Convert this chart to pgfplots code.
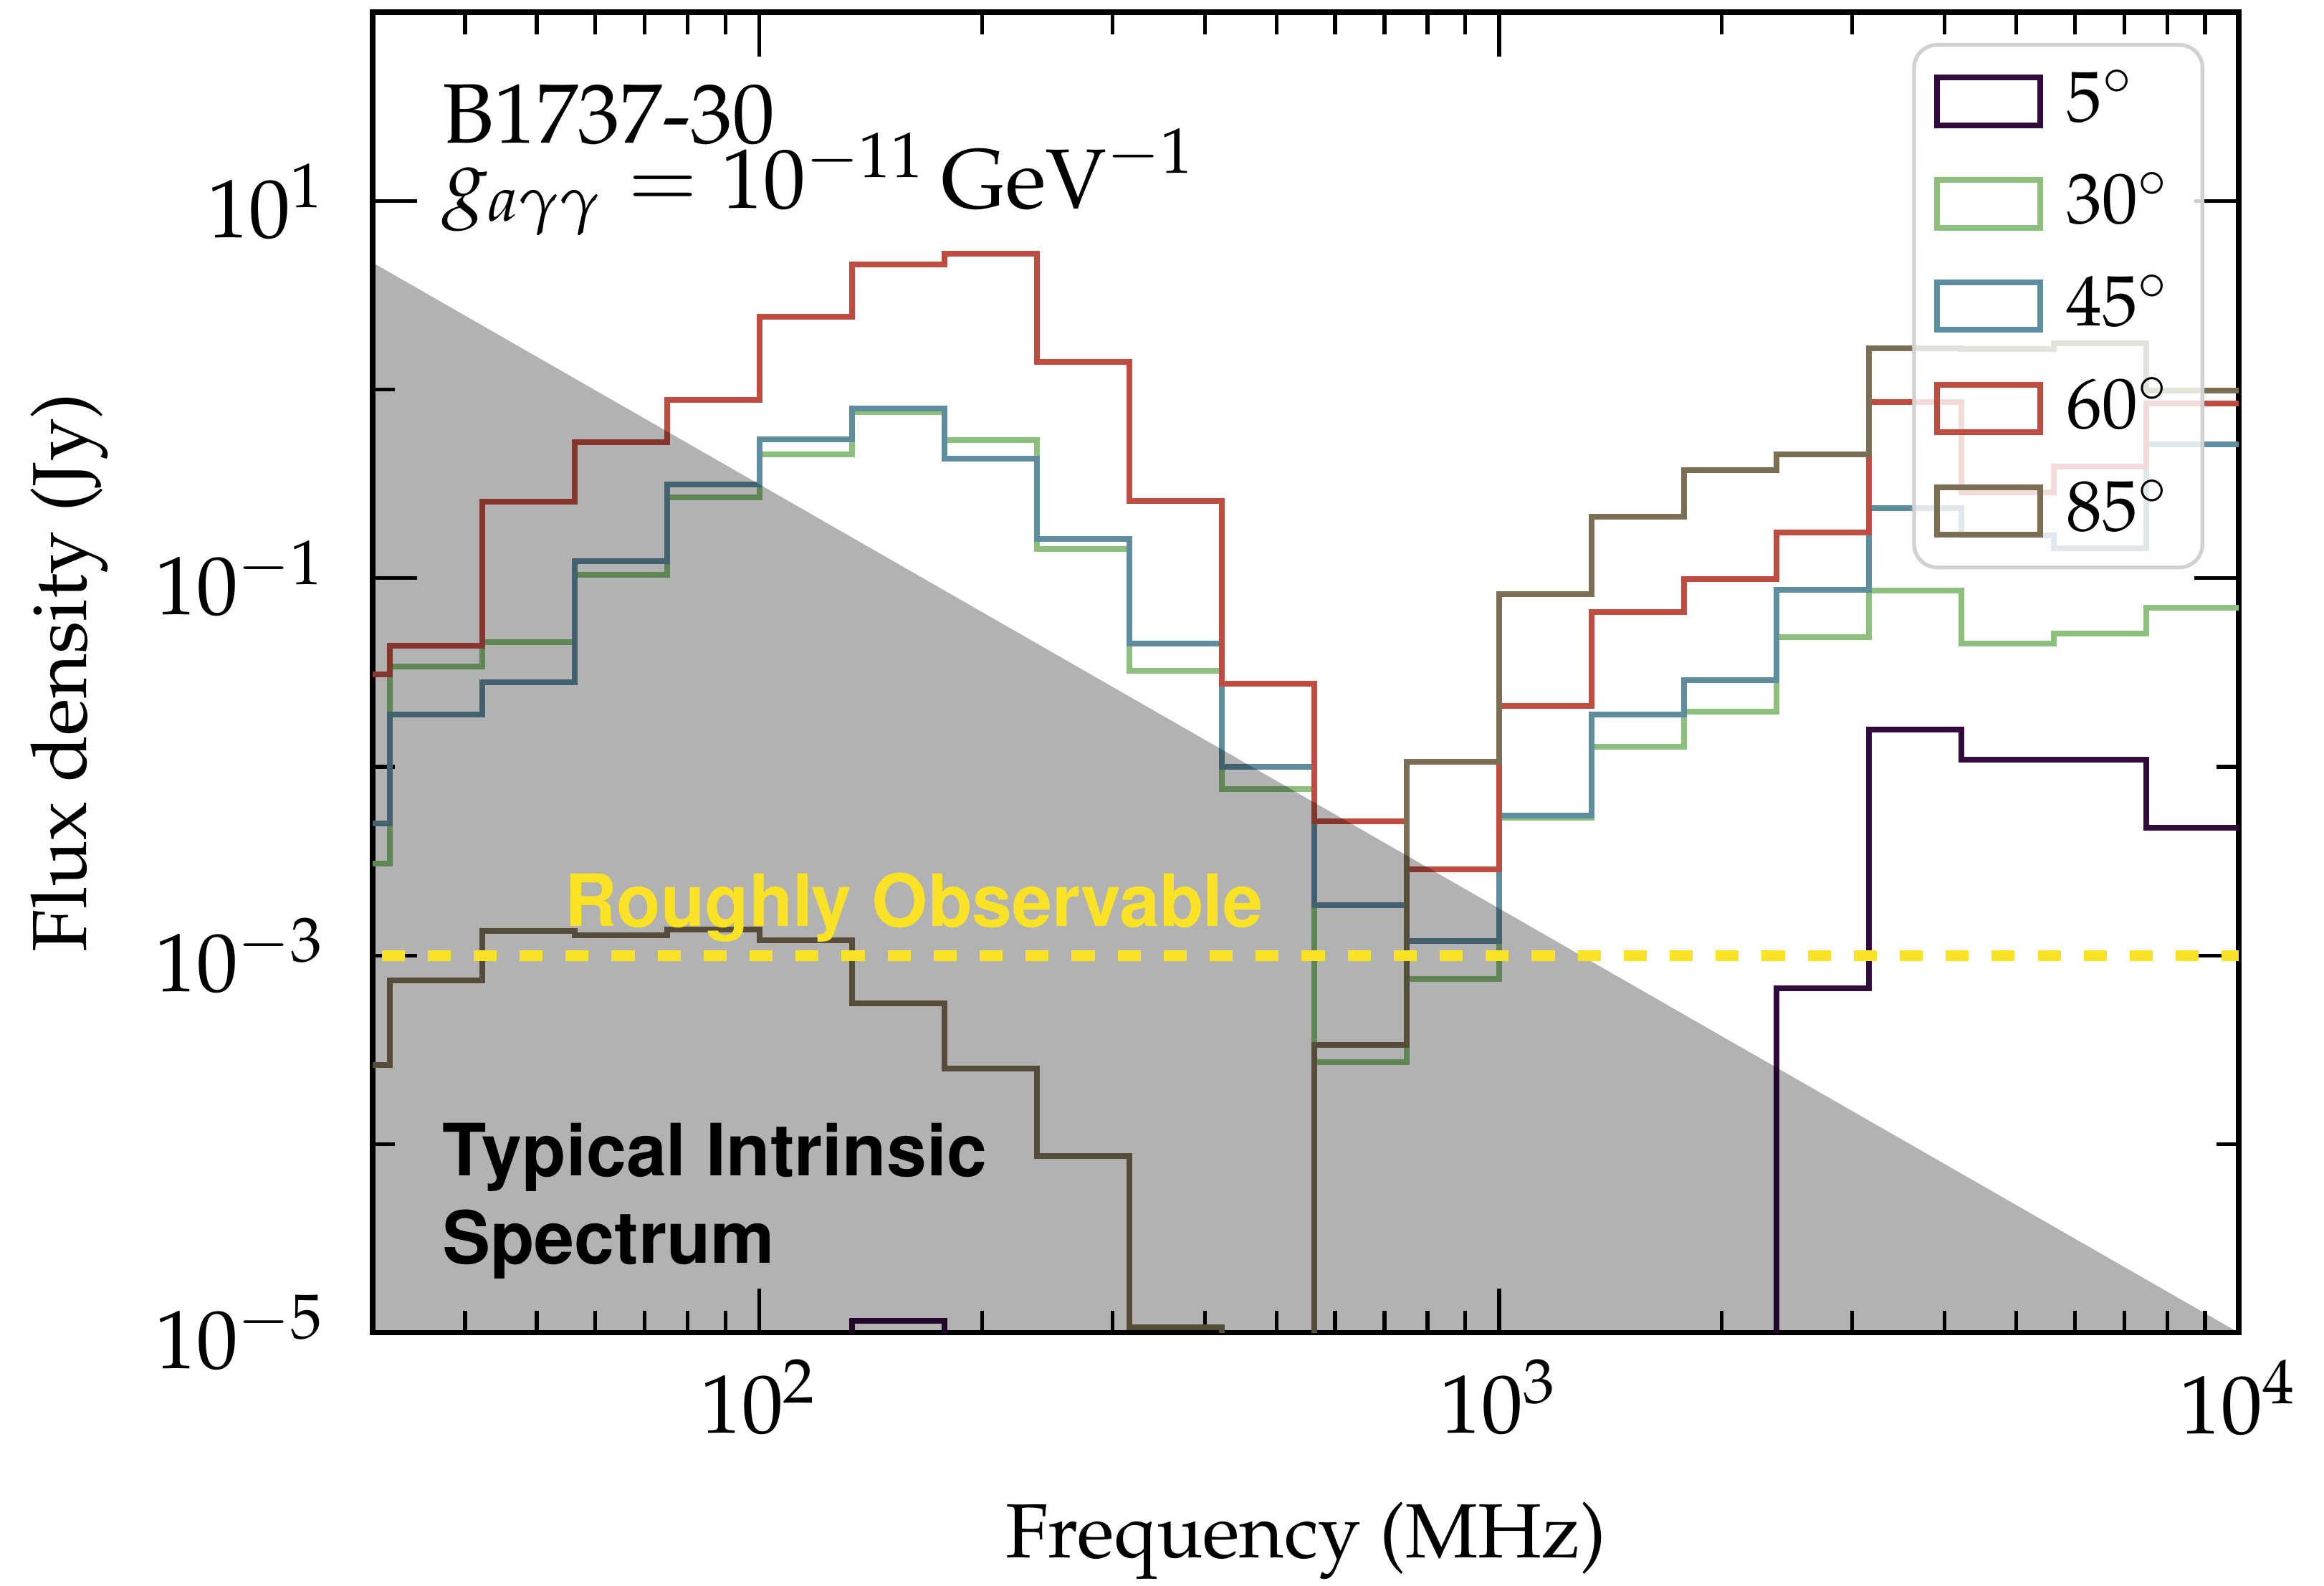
\documentclass[border=0pt]{standalone}
\usepackage[T1]{fontenc}
\usepackage{mathpazo}
\usepackage{pgfplots}
\pgfplotsset{compat=1.18}

\definecolor{c5}{RGB}{50,10,60}
\definecolor{c30}{RGB}{140,192,124}
\definecolor{c45}{RGB}{95,141,160}
\definecolor{c60}{RGB}{190,76,64}
\definecolor{c85}{RGB}{122,111,83}
\definecolor{obsyellow}{RGB}{250,226,38}

\newcommand\arialb[1]{\fontsize{#1}{1.2\dimexpr#1pt\relax}\fontfamily{phv}\fontseries{b}\selectfont}

\begin{document}
\begin{tikzpicture}
\begin{axis}[
  scale only axis,
  width=243.4pt, height=172.2pt,
  xmode=log, ymode=log,
  xmin=30, xmax=10000,
  ymin=1e-5, ymax=100,
  xtick={100,1000,10000},
  minor xtick={40,50,60,70,80,90,200,300,400,500,600,700,800,900,
               2000,3000,4000,5000,6000,7000,8000,9000},
  ytick={1e-5,1e-3,1e-1,10},
  minor ytick={1e-4,1e-2,1,100},
  tick align=inside,
  major tick length=5.8pt, minor tick length=2.9pt,
  every tick/.style={black, line width=0.5pt},
  axis line style={line width=0.7pt},
  tick label style={font=\fontsize{10.8}{12}\selectfont},
  yticklabel style={xshift=-2.6pt},
  xlabel={Frequency (MHz)},
  ylabel={Flux density (Jy)},
  label style={font=\fontsize{10.6}{12}\selectfont},
  every axis x label/.style={at={(axis description cs:0.5,-0.1574)}, anchor=center},
  every axis y label/.style={at={(axis description cs:-0.1623,0.5)}, anchor=center, rotate=90},
  legend style={at={(rel axis cs:1,1)}, anchor=north east,
    xshift=-4.5pt, yshift=-4pt,
    draw=black!18, line width=0.5pt, rounded corners=3pt,
    fill=white, fill opacity=0.8, draw opacity=1, text opacity=1,
    font=\fontsize{9.3}{11}\selectfont,
    inner xsep=2.6pt, inner ysep=1.8pt, row sep=2.2pt,
    nodes={inner sep=1.5pt},
    /tikz/every odd column/.append style={column sep=1.5pt}},
  legend cell align=left,
  legend image code/.code={\draw[#1, sharp corners, fill=none, line width=0.75pt]
    (0pt,-3.1pt) rectangle (13.5pt,3.1pt);},
]

% bin edges: 10^(1.375 + 0.125 k)
\addplot[c5, line width=0.75pt, const plot mark left] coordinates {
 (23.714,1e-9) (31.623,1e-9) (42.170,1e-9) (56.234,1e-9) (74.989,1e-9)
 (100,1e-9) (133.35,1.16e-5) (177.83,1e-9) (237.14,1e-9) (316.23,1e-9)
 (421.70,1e-9) (562.34,1e-9) (749.89,1e-9) (1000,1e-9) (1333.5,1e-9)
 (1778.3,1e-9) (2371.4,0.00067) (3162.3,0.01574) (4217.0,0.01094)
 (5623.4,0.01094) (7498.9,0.00475) (10000,0.00475)};
\addlegendentry{$5^\circ$}

\addplot[c30, line width=0.75pt, const plot mark left] coordinates {
 (23.714,0.00307) (31.623,0.0340) (42.170,0.0457) (56.234,0.104) (74.989,0.268)
 (100,0.455) (133.35,0.760) (177.83,0.538) (237.14,0.1426) (316.23,0.0322)
 (421.70,0.00762) (562.34,0.000272) (749.89,0.00075) (1000,0.00537) (1333.5,0.01274)
 (1778.3,0.01968) (2371.4,0.0489) (3162.3,0.0861) (4217.0,0.0450)
 (5623.4,0.0509) (7498.9,0.0695) (10000,0.0695)};
\addlegendentry{$30^\circ$}

\addplot[c45, line width=0.75pt, const plot mark left] coordinates {
 (23.714,0.00501) (31.623,0.0189) (42.170,0.0281) (56.234,0.1227) (74.989,0.313)
 (100,0.547) (133.35,0.794) (177.83,0.431) (237.14,0.162) (316.23,0.0450)
 (421.70,0.01002) (562.34,0.001845) (749.89,0.001197) (1000,0.00551) (1333.5,0.0189)
 (1778.3,0.0288) (2371.4,0.0867) (3162.3,0.2355) (4217.0,0.168)
 (5623.4,0.1445) (7498.9,0.513) (10000,0.513)};
\addlegendentry{$45^\circ$}

\addplot[c60, line width=0.75pt, const plot mark left] coordinates {
 (23.714,0.0309) (31.623,0.0438) (42.170,0.2535) (56.234,0.524) (74.989,0.879)
 (100,2.43) (133.35,4.60) (177.83,5.26) (237.14,1.40) (316.23,0.256)
 (421.70,0.0275) (562.34,0.00515) (749.89,0.00287) (1000,0.0211) (1333.5,0.0664)
 (1778.3,0.0993) (2371.4,0.175) (3162.3,0.859) (4217.0,0.284)
 (5623.4,0.390) (7498.9,0.843) (10000,0.843)};
\addlegendentry{$60^\circ$}

\addplot[c85, line width=0.75pt, const plot mark left] coordinates {
 (23.714,0.000263) (31.623,0.00074) (42.170,0.00135) (56.234,0.00128) (74.989,0.001374)
 (100,0.0012) (133.35,0.000557) (177.83,0.000252) (237.14,8.65e-5) (316.23,1.07e-5)
 (421.70,1e-9) (562.34,0.000336) (749.89,0.01067) (1000,0.082) (1333.5,0.212)
 (1778.3,0.374) (2371.4,0.455) (3162.3,1.66) (4217.0,1.64)
 (5623.4,1.76) (7498.9,0.986) (10000,0.986)};
\addlegendentry{$85^\circ$}

% typical intrinsic spectrum region
\addplot[draw=none, fill=black, fill opacity=0.3, forget plot]
  coordinates {(30,4.71) (10000,1e-5) (30,1e-5)};

% observability threshold
\addplot[obsyellow, line width=1.4pt, dash pattern=on 3pt off 3pt, forget plot]
  coordinates {(30.85,1e-3) (10000,1e-3)};

\node[anchor=base west, inner sep=0pt, font=\fontsize{11}{13}\selectfont]
  at (axis cs:37.1,20.3) {B1737-30};
\node[anchor=base west, inner sep=0pt, font=\fontsize{11}{13}\selectfont]
  at (axis cs:37.1,9.16) {$g_{a\gamma\gamma} = 10^{-11}\,\mathrm{GeV}^{-1}$};
\node[anchor=base west, inner sep=0pt, text=obsyellow, font=\arialb{9.4}]
  at (axis cs:54.3,0.00143) {Roughly Observable};
\node[anchor=base west, inner sep=0pt, font=\arialb{9.4}]
  at (axis cs:37.1,6.78e-5) {Typical Intrinsic};
\node[anchor=base west, inner sep=0pt, font=\arialb{9.4}]
  at (axis cs:37.1,2.33e-5) {Spectrum};
\end{axis}
\pgfresetboundingbox
\path (-48.6pt,-33pt) rectangle (254.5pt,173.8pt);
\end{tikzpicture}
\end{document}
